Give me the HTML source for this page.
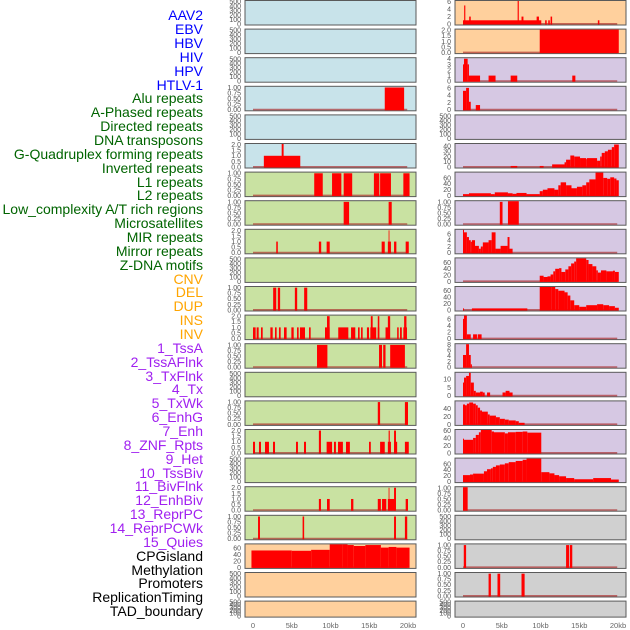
<!DOCTYPE html>
<html><head><meta charset="utf-8">
<style>
html,body{margin:0;padding:0;background:#fff;}
svg{display:block;font-family:"Liberation Sans",sans-serif;}
.lab{font-size:14px;text-anchor:end;}
.tk{font-size:7px;fill:#555;text-anchor:end;}
.xt{font-size:7.5px;fill:#666;text-anchor:middle;}
</style></head>
<body>
<svg id="chart" width="630" height="630" viewBox="0 0 630 630" xmlns="http://www.w3.org/2000/svg">
<g>
<text class="lab" x="203" y="20" fill="#0000ff">AAV2</text>
<text class="lab" x="203" y="34" fill="#0000ff">EBV</text>
<text class="lab" x="203" y="48" fill="#0000ff">HBV</text>
<text class="lab" x="203" y="62" fill="#0000ff">HIV</text>
<text class="lab" x="203" y="76" fill="#0000ff">HPV</text>
<text class="lab" x="203" y="90" fill="#0000ff">HTLV-1</text>
<text class="lab" x="203" y="103" fill="#006400">Alu repeats</text>
<text class="lab" x="203" y="117" fill="#006400">A-Phased repeats</text>
<text class="lab" x="203" y="131" fill="#006400">Directed repeats</text>
<text class="lab" x="203" y="145" fill="#006400">DNA transposons</text>
<text class="lab" x="203" y="159" fill="#006400">G-Quadruplex forming repeats</text>
<text class="lab" x="203" y="173" fill="#006400">Inverted repeats</text>
<text class="lab" x="203" y="187" fill="#006400">L1 repeats</text>
<text class="lab" x="203" y="200" fill="#006400">L2 repeats</text>
<text class="lab" x="203" y="214" fill="#006400">Low_complexity A/T rich regions</text>
<text class="lab" x="203" y="228" fill="#006400">Microsatellites</text>
<text class="lab" x="203" y="242" fill="#006400">MIR repeats</text>
<text class="lab" x="203" y="256" fill="#006400">Mirror repeats</text>
<text class="lab" x="203" y="270" fill="#006400">Z-DNA motifs</text>
<text class="lab" x="203" y="284" fill="#ffa500">CNV</text>
<text class="lab" x="203" y="297" fill="#ffa500">DEL</text>
<text class="lab" x="203" y="311" fill="#ffa500">DUP</text>
<text class="lab" x="203" y="325" fill="#ffa500">INS</text>
<text class="lab" x="203" y="339" fill="#ffa500">INV</text>
<text class="lab" x="203" y="353" fill="#a020f0">1_TssA</text>
<text class="lab" x="203" y="367" fill="#a020f0">2_TssAFlnk</text>
<text class="lab" x="203" y="381" fill="#a020f0">3_TxFlnk</text>
<text class="lab" x="203" y="394" fill="#a020f0">4_Tx</text>
<text class="lab" x="203" y="408" fill="#a020f0">5_TxWk</text>
<text class="lab" x="203" y="422" fill="#a020f0">6_EnhG</text>
<text class="lab" x="203" y="436" fill="#a020f0">7_Enh</text>
<text class="lab" x="203" y="450" fill="#a020f0">8_ZNF_Rpts</text>
<text class="lab" x="203" y="464" fill="#a020f0">9_Het</text>
<text class="lab" x="203" y="478" fill="#a020f0">10_TssBiv</text>
<text class="lab" x="203" y="491" fill="#a020f0">11_BivFlnk</text>
<text class="lab" x="203" y="505" fill="#a020f0">12_EnhBiv</text>
<text class="lab" x="203" y="519" fill="#a020f0">13_ReprPC</text>
<text class="lab" x="203" y="533" fill="#a020f0">14_ReprPCWk</text>
<text class="lab" x="203" y="547" fill="#a020f0">15_Quies</text>
<text class="lab" x="203" y="561" fill="#000">CPGisland</text>
<text class="lab" x="203" y="575" fill="#000">Methylation</text>
<text class="lab" x="203" y="588" fill="#000">Promoters</text>
<text class="lab" x="203" y="602" fill="#000">ReplicationTiming</text>
<text class="lab" x="203" y="616" fill="#000">TAD_boundary</text>
</g>
<g id="panels"></g>
</svg>
<script>
// ---- tick label sets ----
const T500 = ["0","100","200","300","400","500"];
const T1 = ["0.00","0.25","0.50","0.75","1.00"];
const T2 = ["0.0","0.5","1.0","1.5","2.0"];
const T6 = ["0","2","4","6"];
const T4 = ["0","1","2","3","4"];
const T8 = ["0","2","4","6","8"];
const T10 = ["0","5","10"];
const T40 = ["0","10","20","30","40"];
const T40b = ["0","20","40"];
const T60 = ["0","20","40","60"];
const xTickLabels = ["0","5kb","10kb","15kb","20kb"];
const xTickValues = [0,5,10,15,20];

// ---- left column series: [startKb, endKb, value] ----
const L3 = [[17.0,19.5,1]];
const L5 = [[1.4,6.1,1],[3.7,3.95,2.1]];
const L6 = [[7.9,9.0,1],[10.2,11.4,1],[11.7,12.8,1],[15.6,16.3,1],[16.4,17.8,1],[19.4,20.2,1]];
const L7 = [[11.7,12.4,1],[17.5,17.9,1]];
const L8 = [[3.0,3.2,1],[8.5,8.8,1],[9.5,9.9,1],[16.6,17.0,1],[17.4,17.8,1],[17.5,17.6,2],[18.2,18.5,1],[19.7,20.1,1]];
const L10 = [[2.6,3.0,1],[3.2,3.5,1],[5.4,5.7,1],[6.6,7.0,1]];
const L11 = [[0,0.34,1],[0.47,0.73,1],[1.03,1.25,1],[2.24,2.54,1],[2.84,3.05,1],[3.35,3.57,1],[4.0,4.34,1],[4.95,5.25,1],[5.68,5.89,1],[6.06,6.71,1],[7.23,7.44,1],[9.29,9.89,1],[11.0,12.3,1],[12.65,13.2,1],[13.55,13.76,1],[13.94,14.15,1],[14.7,14.97,1],[15.14,15.9,1],[16.1,16.3,1],[17.1,17.5,1],[18.6,18.8,1],[18.97,19.2,1],[19.4,19.87,1],[9.55,9.89,2],[15.2,15.44,2],[16.1,16.3,2],[17.4,17.7,2],[19.5,19.8,2]];
const L12 = [[8.26,9.6,1],[16.26,16.65,1],[16.8,17.1,1],[17.7,19.6,1]];
const L14 = [[16.1,16.4,1],[19.6,20.0,1]];
const L15 = [[0,0.26,1],[0.77,1.03,1],[1.55,2.06,1],[2.58,2.84,1],[5.55,5.8,1],[6.58,6.84,1],[8.5,8.77,2],[9.5,10.2,1],[10.45,10.7,1],[10.97,11.6,1],[12.0,12.5,1],[14.97,15.2,1],[16.4,17.0,1],[17.4,17.8,1],[17.5,17.65,2],[18.2,18.6,1],[18.2,18.45,2],[19.6,20.1,1]];
const L17 = [[8.5,8.77,1],[9.55,9.9,1],[12.65,12.95,1],[16.1,16.5,1],[16.65,17.2,1],[17.4,18.3,1],[17.5,17.6,2],[18.2,18.45,2],[19.7,20.0,1]];
const L18 = [[0.65,0.9,1],[6.4,6.6,1],[18.2,18.45,1],[19.6,19.9,1]];
const L19 = [[-0.2,5,53],[5,7.5,52],[7.5,9.9,55],[9.9,11.5,73],[11.5,12.2,72],[12.2,13.0,70],[13.0,14.5,67],[14.5,16.5,70],[16.5,17.5,62],[17.5,18.5,64],[18.5,20.2,62]];

// ---- right column series ----
const R0 = [[0,10.1,1],[0.15,0.3,5],[0.8,1.0,2],[7.05,7.2,6.5],[7.55,7.8,2],[9.5,9.8,2],[10.6,10.8,1],[11.0,11.2,1],[11.3,11.5,2],[17.4,17.6,1]];
const R1 = [[9.9,20.1,2.2]];
const R2 = [[0,0.13,3],[0.13,0.6,4],[0.6,0.77,3],[0.77,2.2,1],[3.3,4.2,1],[6.15,7.0,1],[14.1,14.5,1]];
const R3 = [[0,0.4,5.2],[0.4,0.77,6],[0.77,1.0,2.2],[1.65,2.2,1.3]];
const R5 = [[6.15,7.0,2],[9.9,10.4,2],[11.5,13.1,5],[13.1,13.3,9],[13.3,13.85,14],[13.85,14.35,22],[14.35,15.1,20],[15.1,15.9,17],[15.9,16.0,15],[16.0,17.3,17],[17.3,17.7,12],[17.7,17.9,20],[17.9,18.3,27],[18.3,18.7,30],[18.7,19.2,33],[19.2,19.5,38],[19.5,20.1,43]];
const R6 = [[0,0.77,5],[0.77,3.6,8],[3.6,4.1,5],[4.1,5.8,11],[5.8,6.4,8],[6.4,6.9,6],[6.9,8.2,9],[8.2,9.9,5],[9.9,10.3,15],[10.3,10.9,20],[10.9,11.8,25],[11.8,12.3,20],[12.3,12.6,35],[12.6,13.3,45],[13.3,14.0,35],[14.0,14.7,25],[14.7,15.4,30],[15.4,15.9,35],[15.9,16.3,45],[16.3,17.1,55],[17.1,18.1,78],[18.1,18.6,60],[18.6,19.0,57],[19.0,19.5,62],[19.5,19.8,58],[19.8,20.1,52]];
const R7 = [[4.75,5.1,1],[5.8,7.2,1.1]];
const R8 = [[0,0.13,7.5],[0.13,0.5,6.5],[0.5,0.77,5],[0.77,1.0,4],[1.0,1.15,3.5],[1.15,1.55,4],[1.55,2.05,2.2],[2.05,2.3,1.3],[2.3,2.56,2],[2.56,3.3,3.3],[3.3,3.7,4],[3.7,4.2,6.5],[4.2,4.85,1.3],[4.85,5.75,2.2],[5.75,6.0,5],[6.0,6.4,1.3]];
const R9 = [[9.9,10.4,18],[10.4,10.9,14],[10.9,11.3,16],[11.3,11.65,22],[11.65,11.9,32],[11.9,12.4,40],[12.4,12.7,42],[12.7,13.2,30],[13.2,13.6,38],[13.6,13.95,48],[13.95,14.35,57],[14.35,14.6,63],[14.6,15.9,75],[15.9,16.2,68],[16.2,16.7,55],[16.7,17.2,48],[17.2,17.4,35],[17.4,17.8,28],[17.8,18.5,35],[18.5,19.35,32],[19.35,19.6,34],[19.6,20.1,30]];
const R10 = [[0,0.13,5],[1.15,8.3,5],[9.9,11.4,78],[11.4,11.9,72],[11.9,12.3,65],[12.3,13.1,60],[13.1,13.5,55],[13.5,13.85,45],[13.85,14.35,30],[14.35,15.0,15],[15.0,15.9,10],[15.9,17.3,15],[17.3,18.1,18],[18.1,18.85,15],[18.85,19.6,12],[19.6,20.1,7]];
const R11 = [[0,0.13,6],[0.13,0.5,7.5],[0.5,1.0,1.3],[1.3,1.8,1.3],[1.9,2.4,1.3]];
const R12 = [[0,0.4,4.3],[0.4,0.77,8.3],[0.77,1.0,4.3],[1.0,1.15,1]];
const R13 = [[0,0.13,8],[0.13,0.4,11],[0.4,0.77,12],[0.77,1.0,14],[1.0,1.4,8],[1.4,1.65,3],[1.65,2.2,2],[2.2,2.56,2.5],[2.56,2.8,2],[3.1,3.5,2],[5.1,5.5,2],[5.5,6.0,3],[6.0,6.4,2]];
const R14 = [[0,0.26,50],[0.26,0.5,48],[0.5,0.8,52],[0.8,1.3,55],[1.3,1.65,52],[1.65,1.9,48],[1.9,2.2,42],[2.2,2.45,35],[2.45,3.2,32],[3.2,3.45,25],[3.45,4.25,22],[4.25,4.75,18],[4.75,5.4,14],[5.4,5.9,12],[5.9,6.8,10],[6.8,7.2,8],[7.2,7.95,4]];
const R15 = [[0,0.13,38],[0.13,1.3,35],[1.3,1.65,40],[1.65,2.05,48],[2.05,2.3,55],[2.3,3.7,62],[3.7,4.0,57],[4.0,5.4,55],[5.4,5.8,52],[5.8,6.8,55],[6.8,7.7,56],[7.7,8.3,57],[8.3,10.1,54]];
const R16 = [[0,0.9,22],[0.9,1.3,24],[1.3,2.7,27],[2.7,3.1,35],[3.1,3.6,42],[3.6,3.85,45],[3.85,4.25,50],[4.25,4.75,55],[4.75,5.4,58],[5.4,5.9,62],[5.9,6.8,66],[6.8,7.7,70],[7.7,8.2,74],[8.2,10.1,78],[10.1,11.15,32],[11.15,11.8,28],[11.8,12.4,22],[12.4,13.3,18],[13.3,14.35,12],[14.35,16.8,8],[16.8,19.1,12],[19.1,20.1,7]];
const R17 = [[0,0.6,1.1]];
const R19 = [[0.1,0.4,1],[13.3,13.7,1],[13.8,14.1,1]];
const R20 = [[3.3,3.6,1],[4.45,4.8,1],[7.55,7.95,1]];

// ---- panel definitions (series, tick labels, y max) ----
const leftTracks = [
 [null,T500,515],[null,T500,515],[null,T500,515],[L3,T1,1.03],[null,T500,515],[L5,T2,2.05],
 [L6,T1,1.03],[L7,T1,1.03],[L8,T2,2.05],[null,T500,515],[L10,T1,1.03],[L11,T2,2.05],
 [L12,T1,1.03],[null,T500,515],[L14,T1,1.03],[L15,T2,2.05],[null,T500,515],[L17,T2,2.05],
 [L18,T1,1.03],[L19,T60,72],[null,T500,515],[null,T500,515]
];
const rightTracks = [
 [R0,T6,6.2],[R1,T2,2.05],[R2,T4,4.1],[R3,T6,6.3],[null,T500,515],[R5,T40,44],
 [R6,T60,78],[R7,T1,1.03],[R8,T6,7.3],[R9,T60,73],[R10,T60,71.5],[R11,T6,7],
 [R12,T8,8.1],[R13,T10,13.9],[R14,T40b,57.7],[R15,T60,61],[R16,T60,78],[R17,T1,1.03],
 [null,T500,515],[R19,T1,1.03],[R20,T1,1.03],[null,T500,515]
];
</script>
<script>
const NS="http://www.w3.org/2000/svg";
const root=document.getElementById('panels');
const leftBg=i=> i<6?'#c8e3ea':(i<19?'#c9e2a2':'#ffd09d');
const rightBg=i=> i<2?'#ffd09d':(i<17?'#d6c8e3':'#d0d0d0');
function mk(tag,attrs,parent){const e=document.createElementNS(NS,tag);for(const k in attrs)e.setAttribute(k,attrs[k]);parent.appendChild(e);return e;}
function drawPanel(track,row,px0,bg,side){
  const top=0.5+28.6*row;
  const h=row===21?16:24.5;
  const bottom=top+h;
  const x0=px0+8, kbPx=7.75;
  const xs=kb=>x0+kb*kbPx;
  const [series,ticks,ymax]=track;
  const ys=v=>bottom-1-Math.min(v,ymax)/ymax*(h-1.5);
  const g=mk('g',{},root);
  
  
  const r=mk('rect',{x:px0,y:top,width:171,height:h,fill:bg,stroke:'#5a5a5a','stroke-width':1},g);
  
  
  const scaleMax= series?ymax:515;
  ticks.forEach(t=>{
    const v=parseFloat(t);
    const y=bottom-1-v/scaleMax*(h-1.5);
    const tx=mk('text',{x:px0-4,y:y+2.4,class:'tk'},g);
    tx.textContent=t;
    
    
  });
  if(series){
    const bl=mk('line',{x1:xs(0),x2:xs(19.9),y1:bottom-1.2,y2:bottom-1.2,stroke:'rgba(170,40,40,0.65)','stroke-width':1.6},g);
    
    
    series.forEach(d=>{
      const xa=Math.max(xs(d[0]),px0+0.5), xb=Math.min(xs(d[1]),px0+170.5);
      const y=ys(d[2]);
      const b=mk('rect',{x:xa,y:y,width:Math.max(0.8,xb-xa),height:bottom-1-y+0.5,fill:'#ff0000'},g);
      
      
    });
  }
}
leftTracks.forEach((t,i)=>drawPanel(t,i,245,leftBg(i),'left'));
rightTracks.forEach((t,i)=>drawPanel(t,i,455,rightBg(i),'right'));
[[253,'left'],[463,'right']].forEach(([x0,side])=>{
  xTickValues.forEach((v,j)=>{
    const t=mk('text',{x:x0+v*7.75,y:628,class:'xt'},root);
    t.textContent=xTickLabels[j];
    
    
  });
});
</script>
</body></html>
